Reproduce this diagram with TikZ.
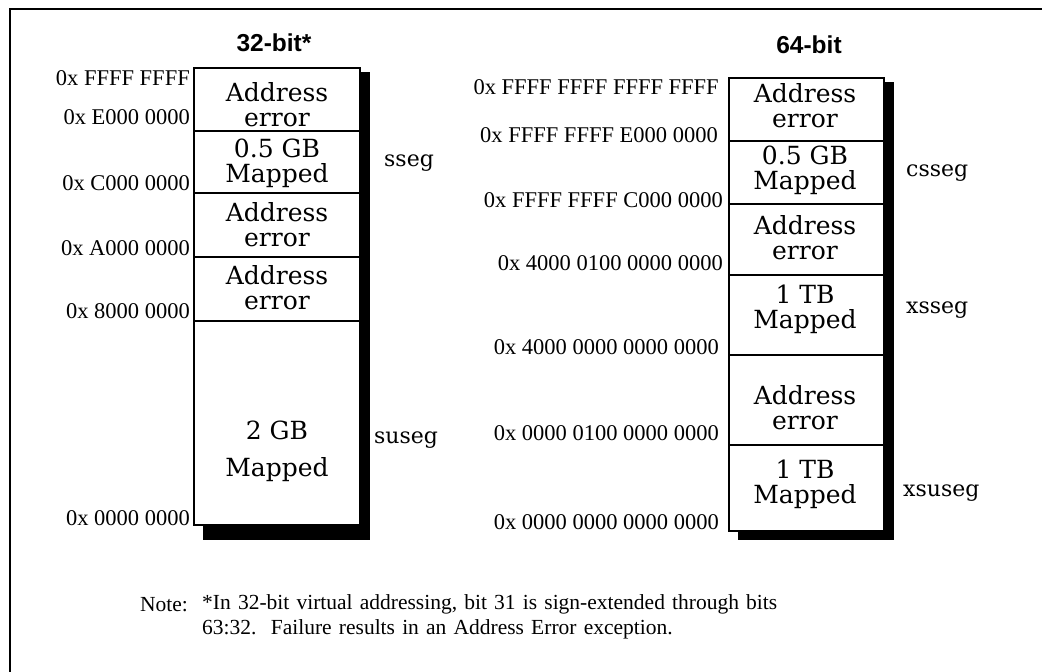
\documentclass[tikz,border=0pt]{standalone}
\usepackage{fontspec}
\setmainfont{Liberation Serif}
\newfontfamily\cellfont{DejaVu Serif}
\newfontfamily\headfont{Liberation Sans}

\begin{document}
\begin{tikzpicture}[x=1pt, y=-1pt]
        \tikzset{
            frame/.style={draw=black, line width=2pt},
            cell/.style={draw=black, fill=white, line width=1.1pt},
            shade/.style={fill=black},
            celltext/.style={font=\cellfont\fontsize{25}{25}\selectfont, align=center, inner sep=0pt},
            addr/.style={font=\fontsize{22.5}{24}\selectfont, anchor=east, inner sep=0pt},
            seglabel/.style={font=\cellfont\fontsize{22}{24}\selectfont, anchor=west, inner sep=0pt},
            heading/.style={font=\headfont\bfseries\fontsize{24.5}{26}\selectfont, inner sep=0pt},
            notetext/.style={font=\fontsize{21.5}{25}\selectfont, anchor=west, inner sep=0pt, align=left}
        }

        \useasboundingbox (0,0) rectangle (1042,672);
        \draw[frame] (1042,9) -- (10,9) -- (10,672);

        % 32-bit map
        \node[heading] (head32) at (274,43) {32-bit*};
        \fill[shade] (360,72) rectangle (370,540);
        \fill[shade] (203,525) rectangle (370,540);
        \draw[cell] (194,68) rectangle (360,131);
        \draw[cell] (194,131) rectangle (360,193);
        \draw[cell] (194,193) rectangle (360,257);
        \draw[cell] (194,257) rectangle (360,321);
        \draw[cell] (194,321) rectangle (360,525);

        \node[celltext] (s1) at (277,105) {Address\\error};
        \node[celltext] (s2) at (277,163) {0.5 GB\\Mapped};
        \node[celltext] (s3) at (277,225) {Address\\error};
        \node[celltext] (s4) at (277,288) {Address\\error};
        \node[celltext, font=\cellfont\fontsize{25}{37}\selectfont] (s5) at (277,451) {2 GB\\Mapped};

        \node[addr] (a1) at (190,78) {0x FFFF FFFF};
        \node[addr] (a2) at (190,117) {0x E000 0000};
        \node[addr] (a3) at (190,183) {0x C000 0000};
        \node[addr] (a4) at (190,248) {0x A000 0000};
        \node[addr] (a5) at (190,311) {0x 8000 0000};
        \node[addr] (a6) at (190,518) {0x 0000 0000};

        \node[seglabel] (sseg) at (384,163) {sseg};
        \node[seglabel] (suseg) at (374,440) {suseg};

        % 64-bit map
        \node[heading] (head64) at (809,45) {64-bit};
        \fill[shade] (884,82) rectangle (894,540);
        \fill[shade] (738,531) rectangle (894,540);
        \draw[cell] (729,78) rectangle (884,141);
        \draw[cell] (729,141) rectangle (884,204);
        \draw[cell] (729,204) rectangle (884,275);
        \draw[cell] (729,275) rectangle (884,355);
        \draw[cell] (729,355) rectangle (884,445);
        \draw[cell] (729,445) rectangle (884,531);

        \node[celltext] (x1) at (805,106) {Address\\error};
        \node[celltext] (x2) at (805,170) {0.5 GB\\Mapped};
        \node[celltext] (x3) at (805,238) {Address\\error};
        \node[celltext] (x4) at (805,309) {1 TB\\Mapped};
        \node[celltext] (x5) at (805,408) {Address\\error};
        \node[celltext] (x6) at (805,484) {1 TB\\Mapped};

        \node[addr] (b1) at (719,87) {0x FFFF FFFF FFFF FFFF};
        \node[addr] (b2) at (718,135) {0x FFFF FFFF E000 0000};
        \node[addr] (b3) at (723,200) {0x FFFF FFFF C000 0000};
        \node[addr] (b4) at (723,263) {0x 4000 0100 0000 0000};
        \node[addr] (b5) at (719,347) {0x 4000 0000 0000 0000};
        \node[addr] (b6) at (719,433) {0x 0000 0100 0000 0000};
        \node[addr] (b7) at (719,522) {0x 0000 0000 0000 0000};

        \node[seglabel] (csseg) at (906,173) {csseg};
        \node[seglabel] (xsseg) at (906,310) {xsseg};
        \node[seglabel] (xsuseg) at (903,493) {xsuseg};

        % note
        \node[notetext] (notehead) at (140,605) {Note:};
        \node[notetext, text width=640] (notebody) at (202,617) {*In 32-bit virtual addressing, bit 31 is sign-extended through bits\\63:32.\ \ Failure results in an Address Error exception.};
    \end{tikzpicture}
\end{document}
